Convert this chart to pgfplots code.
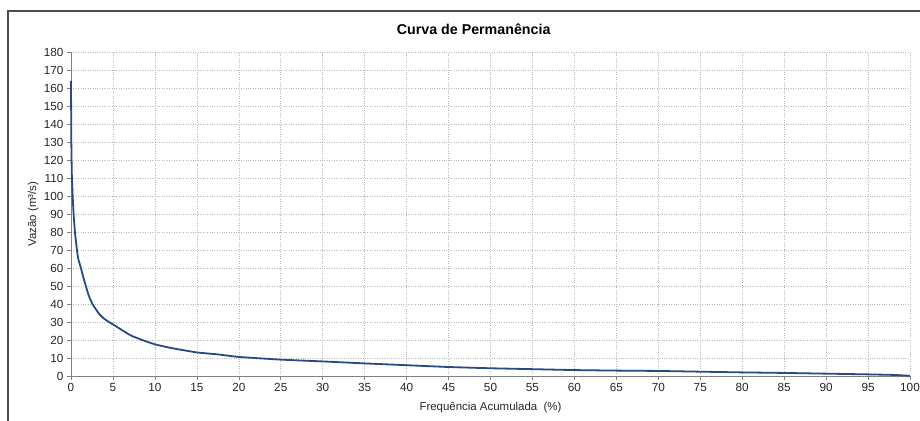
\documentclass[border=0pt]{standalone}
\usepackage{fontspec}
\setmainfont{Liberation Sans}
\usepackage{pgfplots}
\pgfplotsset{compat=1.18}
\definecolor{curve}{RGB}{38,74,130}
\definecolor{gridc}{RGB}{185,185,185}
\begin{document}
\begin{tikzpicture}
\useasboundingbox (0,0) rectangle (920bp,421bp);
\draw[line width=1.3bp, color=black!70] (8bp,-20bp) -- (8bp,410bp) -- (940bp,410bp);
\begin{axis}[
  at={(71bp,45bp)}, anchor=origin,
  scale only axis, width=839bp, height=324bp,
  xmin=0, xmax=100, ymin=0, ymax=180,
  xtick={0,5,...,100}, ytick={0,10,...,180},
  axis x line*=bottom, axis y line*=left,
  axis line style={gray, line width=0.8bp, -},
  tick style={gray, line width=0.6bp},
  tick align=outside, major tick length=4bp,
  grid=major,
  major grid style={gridc, dotted, line width=0.6bp},
  ticklabel style={font=\fontsize{11.8}{13}\selectfont, text=black!85},
  /pgf/number format/assume math mode=true,
  xlabel={Frequência Acumulada\ \ (\%)},
  ylabel={Vazão (m³/s)},
  label style={font=\fontsize{11.5}{13}\selectfont, text=black!85},
  xlabel style={at={(axis description cs:0.5,0)}, anchor=center, yshift=-32bp},
  ylabel style={at={(axis description cs:-0.045,0.5)}, anchor=center, rotate=0},
  title={\textbf{Curva de Permanência}},
  title style={font=\fontsize{14.3}{16}\selectfont, at={(axis description cs:0.48,1)}, anchor=center, yshift=17bp},
  clip=false,
]
\addplot[curve, line width=1.8bp, smooth, tension=0.3] table {
x y
0 164
0.04 130
0.1 112
0.2 100
0.31 90
0.47 80
0.71 70
0.87 65
1.18 60
1.46 55
1.77 50
2.09 45
2.56 40
3.27 35
3.9 32
4.53 30
5.5 27.2
7.1 22.6
8.5 20
10 17.6
12 15.5
15 13.1
17.5 12
20 10.6
25 9.1
30 8.1
35 7
40 6
45 5
50 4.3
55 3.8
60 3.3
65 3.0
70 2.8
75 2.4
80 2.0
85 1.7
90 1.3
95 0.9
98 0.6
100 0.1
};
\end{axis}
\end{tikzpicture}
\end{document}
